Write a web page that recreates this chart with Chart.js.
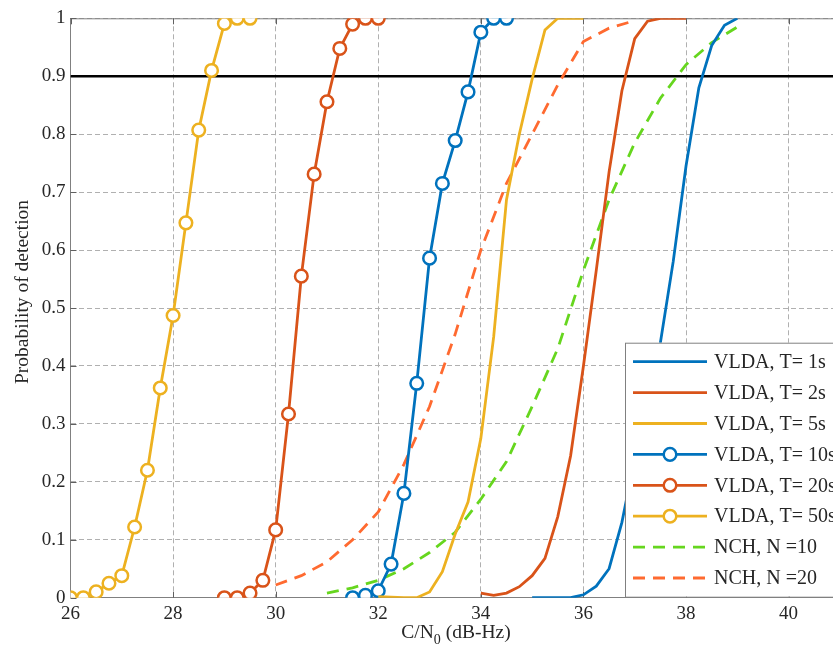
<!DOCTYPE html>
<html>
<head>
<meta charset="utf-8">
<script src="https://cdn.jsdelivr.net/npm/chart.js@4.4.1/dist/chart.umd.min.js"></script>
<style>
  html, body { margin: 0; padding: 0; background: #fff; overflow: hidden; }
  #wrap { width: 900px; height: 658px; }
</style>
</head>
<body>
<div id="wrap"><canvas id="myChart" width="900" height="658"></canvas></div>
<script>
// C/N0 (dB-Hz) values and probability of detection
var cnT1 = [35, 35.25, 35.5, 35.75, 36, 36.25, 36.5, 36.75, 37, 37.25, 37.5, 37.75, 38, 38.25, 38.5, 38.75, 39];
var pdT1 = [0, 0, 0, 0, 0.005, 0.02, 0.05, 0.13, 0.24, 0.34, 0.44, 0.58, 0.745, 0.88, 0.953, 0.988, 1];

var cnT2 = [34, 34.25, 34.5, 34.75, 35, 35.25, 35.5, 35.75, 36, 36.25, 36.5, 36.75, 37, 37.25, 37.5, 37.75, 38];
var pdT2 = [0.008, 0.004, 0.008, 0.019, 0.038, 0.068, 0.14, 0.245, 0.40, 0.565, 0.735, 0.875, 0.965, 0.995, 1, 1, 1];

var cnT5 = [32, 32.25, 32.5, 32.75, 33, 33.25, 33.5, 33.75, 34, 34.25, 34.5, 34.75, 35, 35.25, 35.5, 35.75, 36];
var pdT5 = [0.002, 0.001, 0, 0, 0.01, 0.045, 0.11, 0.165, 0.275, 0.45, 0.687, 0.80, 0.895, 0.98, 1, 1, 1];

var cnT10 = [31.5, 31.75, 32, 32.25, 32.5, 32.75, 33, 33.25, 33.5, 33.75, 34, 34.25, 34.5];
var pdT10 = [0, 0.004, 0.012, 0.058, 0.18, 0.37, 0.586, 0.715, 0.789, 0.873, 0.976, 1, 1];

var cnT20 = [29, 29.25, 29.5, 29.75, 30, 30.25, 30.5, 30.75, 31, 31.25, 31.5, 31.75, 32];
var pdT20 = [0, 0, 0.008, 0.03, 0.117, 0.317, 0.555, 0.731, 0.856, 0.948, 0.99, 1, 1];

var cnT50 = [26, 26.25, 26.5, 26.75, 27, 27.25, 27.5, 27.75, 28, 28.25, 28.5, 28.75, 29, 29.25, 29.5];
var pdT50 = [0, 0, 0.01, 0.025, 0.038, 0.122, 0.22, 0.362, 0.487, 0.647, 0.807, 0.91, 0.991, 1, 1];

var cnN10 = [31, 31.5, 32, 32.5, 33, 33.5, 34, 34.5, 35, 35.5, 36, 36.5, 37, 37.5, 38, 38.5, 39];
var pdN10 = [0.008, 0.017, 0.03, 0.05, 0.078, 0.113, 0.17, 0.235, 0.33, 0.43, 0.565, 0.687, 0.785, 0.862, 0.92, 0.958, 0.985];

var cnN20 = [30, 30.5, 31, 31.5, 32, 32.5, 33, 33.5, 34, 34.5, 35, 35.5, 36, 36.5, 37];
var pdN20 = [0.022, 0.038, 0.062, 0.10, 0.148, 0.23, 0.33, 0.455, 0.60, 0.715, 0.80, 0.885, 0.96, 0.983, 0.996];

var thresholdX = [26, 42];
var thresholdY = [0.9, 0.9];

var seriesNames = ['VLDA, T= 1s', 'VLDA, T= 2s', 'VLDA, T= 5s', 'VLDA, T= 10s',
                   'VLDA, T= 20s', 'VLDA, T= 50s', 'NCH, N =10', 'NCH, N =20'];
var xTitle = ['C/N', '0', ' (dB-Hz)'];
var yTitle = 'Probability of detection';

var blue = 'rgb(0,114,189)';
var red = 'rgb(217,83,25)';
var yellow = 'rgb(237,177,32)';
var green = 'rgb(102,214,30)';
var orange = 'rgb(255,106,48)';
var serif = "'Liberation Serif', 'Times New Roman', serif";
var txtCol = '#262626';

function pts(xs, ys) {
    return xs.map(function (x, i) { return { x: x, y: ys[i] }; });
}

function line(label, xs, ys, color, opts) {
    var d = {
        label: label,
        data: pts(xs, ys),
        borderColor: color,
        backgroundColor: color,
        borderWidth: 2.8,
        pointRadius: 0,
        tension: 0
    };
    if (opts && opts.marker) {
        d.pointRadius = 6.3;
        d.pointHoverRadius = 6.3;
        d.pointBorderWidth = 2.5;
        d.pointBackgroundColor = '#fff';
        d.pointBorderColor = color;
    }
    if (opts && opts.dashed) {
        d.borderDash = [12, 8];
    }
    return d;
}

var datasets = [
    line(seriesNames[0], cnT1, pdT1, blue),
    line(seriesNames[1], cnT2, pdT2, red),
    line(seriesNames[2], cnT5, pdT5, yellow),
    line(seriesNames[3], cnT10, pdT10, blue, { marker: true }),
    line(seriesNames[4], cnT20, pdT20, red, { marker: true }),
    line(seriesNames[5], cnT50, pdT50, yellow, { marker: true }),
    line(seriesNames[6], cnN10, pdN10, green, { dashed: true }),
    line(seriesNames[7], cnN20, pdN20, orange, { dashed: true }),
    {
        label: 'threshold',
        data: pts(thresholdX, thresholdY),
        borderColor: '#000',
        borderWidth: 2.6,
        pointRadius: 0
    }
];

// top frame line, inward ticks, titles and the legend box inside the axes
var decor = {
    id: 'decor',
    beforeDatasetsDraw: function (chart) {
        var ctx = chart.ctx, a = chart.chartArea;
        var sx = chart.scales.x, sy = chart.scales.y;
        ctx.save();
        ctx.strokeStyle = '#808080';
        ctx.lineWidth = 1;
        ctx.beginPath();
        ctx.moveTo(a.left, a.top + 0.5);
        ctx.lineTo(a.right, a.top + 0.5);
        ctx.stroke();
        ctx.strokeStyle = '#606060';
        ctx.beginPath();
        sx.ticks.forEach(function (t) {
            var px = Math.round(sx.getPixelForValue(t.value)) + 0.5;
            ctx.moveTo(px, a.top); ctx.lineTo(px, a.top + 6);
            ctx.moveTo(px, a.bottom); ctx.lineTo(px, a.bottom - 6);
        });
        sy.ticks.forEach(function (t) {
            var py = Math.round(sy.getPixelForValue(t.value)) + 0.5;
            ctx.moveTo(a.left, py); ctx.lineTo(a.left + 6, py);
        });
        ctx.stroke();
        ctx.restore();
    },
    afterDraw: function (chart) {
        var ctx = chart.ctx;
        ctx.save();
        ctx.fillStyle = txtCol;
        ctx.font = '19.5px ' + serif;
        ctx.textAlign = 'center';
        ctx.textBaseline = 'middle';
        ctx.translate(23, 292);
        ctx.rotate(-Math.PI / 2);
        ctx.fillText(yTitle, 0, 0);
        ctx.restore();

        // x title with subscript
        ctx.save();
        ctx.fillStyle = txtCol;
        ctx.textBaseline = 'alphabetic';
        ctx.textAlign = 'left';
        ctx.font = '19.5px ' + serif;
        var w0 = ctx.measureText(xTitle[0]).width;
        var w2 = ctx.measureText(xTitle[2]).width;
        ctx.font = '14px ' + serif;
        var w1 = ctx.measureText(xTitle[1]).width;
        var x = 456 - (w0 + w1 + w2) / 2, y = 638;
        ctx.font = '19.5px ' + serif;
        ctx.fillText(xTitle[0], x, y);
        ctx.font = '14px ' + serif;
        ctx.fillText(xTitle[1], x + w0, y + 6);
        ctx.font = '19.5px ' + serif;
        ctx.fillText(xTitle[2], x + w0 + w1, y);
        ctx.restore();

        // legend
        ctx.save();
        var bx = 625, by = 342.7, bw = 260, bh = 254;
        ctx.fillStyle = '#fff';
        ctx.fillRect(bx, by, bw, bh);
        ctx.strokeStyle = '#808080';
        ctx.lineWidth = 1;
        ctx.strokeRect(bx + 0.5, by + 0.5, bw, bh);
        var ds = chart.data.datasets;
        for (var i = 0; i < seriesNames.length; i++) {
            var d = ds[i];
            var ry = 361.7 + i * 30.9;
            ctx.strokeStyle = d.borderColor;
            ctx.lineWidth = d.borderWidth;
            ctx.setLineDash(d.borderDash || []);
            ctx.beginPath();
            ctx.moveTo(633, ry);
            ctx.lineTo(707, ry);
            ctx.stroke();
            ctx.setLineDash([]);
            if (d.pointRadius > 0) {
                ctx.fillStyle = '#fff';
                ctx.lineWidth = d.pointBorderWidth;
                ctx.beginPath();
                ctx.arc(670, ry, d.pointRadius, 0, Math.PI * 2);
                ctx.fill();
                ctx.stroke();
            }
            ctx.fillStyle = txtCol;
            ctx.font = '20px ' + serif;
            ctx.textAlign = 'left';
            ctx.textBaseline = 'middle';
            ctx.fillText(seriesNames[i], 714, ry + 1);
        }
        ctx.restore();
    }
};

var ctx = document.getElementById('myChart');
var xx = new Chart(ctx, {
    type: 'line',
    data: { datasets: datasets },
    plugins: [decor],
    options: {
        responsive: false,
        animation: false,
        events: [],
        layout: { padding: { top: 18.3, right: 5.5, left: 0, bottom: 0 } },
        plugins: {
            legend: { display: false },
            tooltip: { enabled: false }
        },
        scales: {
            x: {
                type: 'linear',
                min: 26,
                max: 42,
                afterFit: function (s) { s.height = 60.3; },
                ticks: {
                    stepSize: 2,
                    padding: 5,
                    color: txtCol,
                    font: { family: serif, size: 19 },
                    maxRotation: 0,
                    callback: function (v) { return v > 40 ? '' : v; }
                },
                grid: { color: '#b0b0b0', lineWidth: 1, drawTicks: false },
                border: { display: true, color: '#808080', width: 1, dash: [5, 3] }
            },
            y: {
                type: 'linear',
                min: 0,
                max: 1,
                afterFit: function (s) { s.width = 70.5; },
                ticks: {
                    stepSize: 0.1,
                    padding: 5,
                    color: txtCol,
                    font: { family: serif, size: 19 },
                    callback: function (v) { return String(+v.toFixed(1)); }
                },
                grid: { color: '#b0b0b0', lineWidth: 1, drawTicks: false },
                border: { display: true, color: '#808080', width: 1, dash: [5, 3] }
            }
        }
    }
});
</script>
</body>
</html>
